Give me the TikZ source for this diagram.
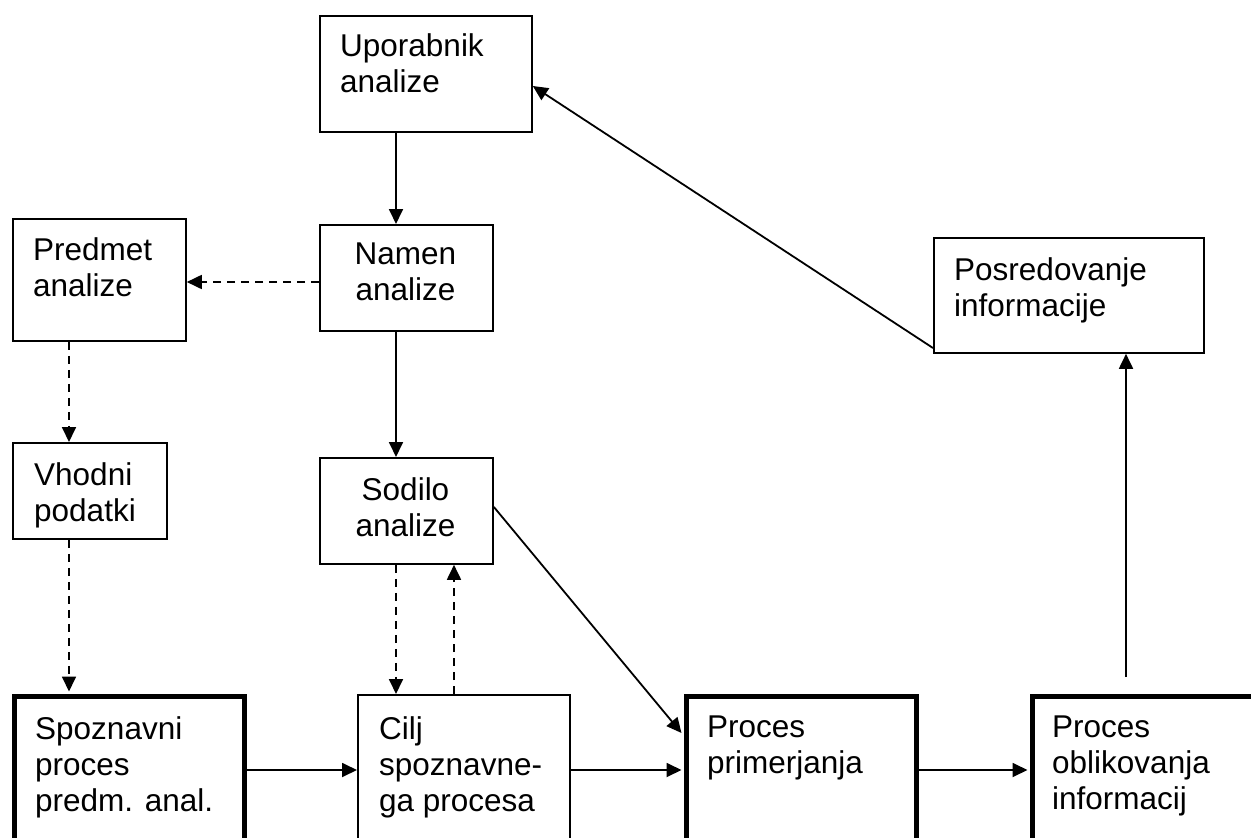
\documentclass[tikz,border=0pt]{standalone}
\usepackage{fontspec}
\setmainfont{Liberation Sans}
\usetikzlibrary{arrows.meta}
\begin{document}
\begin{tikzpicture}[x=1pt,y=-1pt,
  box/.style={draw, line width=1.8pt, inner sep=0pt, anchor=north west},
  thickbox/.style={box, line width=5pt},
  txt/.style={anchor=north west, inner sep=0pt, align=left, font=\fontsize{31.5}{36}\selectfont},
  ctxt/.style={anchor=north, inner sep=0pt, align=center, font=\fontsize{31.5}{36}\selectfont},
  arr/.style={line width=1.8pt, -{Triangle[length=15pt,width=14pt]}},
  darr/.style={arr, dash pattern=on 8pt off 6pt}]
\useasboundingbox (0,0) rectangle (1251,838);
\clip (0,0) rectangle (1251,838);
\fill[white] (0,0) rectangle (1251,838);

% boxes
\node[box, minimum width=212pt, minimum height=116pt] (U) at (319,15) {};
\node[box, minimum width=173pt, minimum height=106pt] (N) at (319,224) {};
\node[box, minimum width=173pt, minimum height=122pt] (P) at (12,218) {};
\node[box, minimum width=270pt, minimum height=115pt] (Pos) at (933,237) {};
\node[box, minimum width=154pt, minimum height=96pt] (V) at (12,442) {};
\node[box, minimum width=173pt, minimum height=106pt] (S) at (319,457) {};
\node[thickbox, minimum width=230pt, minimum height=180pt] (Sp) at (12,694) {};
\node[box, minimum width=212pt, minimum height=180pt] (C) at (357,694) {};
\node[thickbox, minimum width=230pt, minimum height=180pt] (PP) at (684,694) {};
\node[thickbox, minimum width=260pt, minimum height=180pt] (PO) at (1030,694) {};

% texts
\node[txt] (tU) at (340,33) {Uporabnik\\analize};
\node[ctxt] (tN) at (405.5,243) {Namen\\analize};
\node[txt] (tP) at (33,237) {Predmet\\analize};
\node[txt] (tPos) at (954,257) {Posredovanje\\informacije};
\node[txt] (tV) at (34,462) {Vhodni\\podatki};
\node[ctxt] (tS) at (405.5,477) {Sodilo\\analize};
\node[txt] (tSp) at (35,716) {Spoznavni\\proces\\predm. anal.};
\node[txt] (tC) at (379,716) {Cilj\\spoznavne-\\ga procesa};
\node[txt] (tPP) at (707,716) {Proces\\primerjanja};
\node[txt] (tPO) at (1052,716) {Proces\\oblikovanja\\informacij};

% connectors
\draw[arr] ([xshift=77pt]U.south west) -- ([xshift=77pt]N.north west);
\draw[arr] ([xshift=77pt]N.south west) -- ([xshift=77pt]S.north west);
\draw[darr] ([yshift=-58pt]N.north west) -- ([yshift=-64pt]P.north east);
\draw[darr] ([xshift=57pt]P.south west) -- ([xshift=57pt]V.north west);
\draw[darr] ([xshift=57pt]V.south west) -- ([xshift=57pt,yshift=2.5pt]Sp.north west);
\draw[darr] ([xshift=77pt]S.south west) -- ([xshift=39pt]C.north west);
\draw[darr] ([xshift=97pt]C.north west) -- ([xshift=135pt]S.south west);
\draw[arr] ([yshift=4pt]S.east) -- ([xshift=-2.5pt,yshift=-39pt]PP.north west);
\draw[arr] ([yshift=-76pt]Sp.north east) -- ([yshift=-76pt]C.north west);
\draw[arr] ([yshift=-76pt]C.north east) -- ([xshift=-2.5pt,yshift=-76pt]PP.north west);
\draw[arr] ([yshift=-76pt]PP.north east) -- ([xshift=-2.5pt,yshift=-76pt]PO.north west);
\draw[arr] ([xshift=96pt,yshift=17pt]PO.north west) -- ([xshift=193pt]Pos.south west);
\draw[arr] ([yshift=-111pt]Pos.north west) -- ([yshift=-71pt]U.north east);
\end{tikzpicture}
\end{document}
